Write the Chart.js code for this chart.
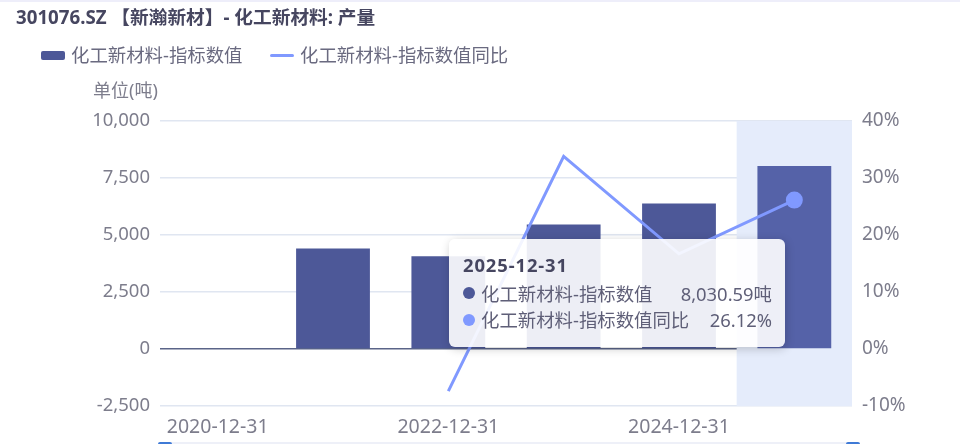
<!DOCTYPE html>
<html>
<head>
<meta charset="utf-8">
<script src="https://cdn.jsdelivr.net/npm/chart.js@4"></script>
<style>
  html, body { margin: 0; padding: 0; background: #fff; }
  body { width: 960px; height: 444px; position: relative; overflow: hidden; font-family: "Noto Sans", "Noto Sans CJK SC", sans-serif; }
  .abs { position: absolute; white-space: nowrap; }
  #topline { left: 0; top: 0; width: 960px; height: 2px; background: #eeeefa; }
  #title { left: 16px; top: 6px; font-size: 18.7px; line-height: 22px; font-weight: 700; color: #464660; }
  .legend { top: 43px; font-size: 18.4px; line-height: 24px; color: #6a6a80; }
  .swatch { position: absolute; top: 51px; width: 24px; border-radius: 2px; }
  #unit { left: 93px; top: 79px; font-size: 18px; line-height: 22px; color: #7d7d8c; }
  #wrap { left: 0; top: 0; width: 960px; height: 444px; }
  #tip { left: 449px; top: 239px; width: 336px; height: 108px; box-sizing: border-box; background: rgba(255,255,255,.9); border-radius: 6px; box-shadow: 1px 2px 10px rgba(0,0,0,.2); color: #5f5f78; font-size: 18.4px; }
  #tip .t { position: absolute; left: 14px; top: 14px; font-size: 18.4px; letter-spacing: 0.9px; line-height: 24px; font-weight: 700; color: #464660; }
  #tip .n { position: absolute; left: 32px; line-height: 24px; }
  #tip .v { position: absolute; right: 13px; line-height: 24px; }
  #tip .d { position: absolute; left: 14px; width: 12px; height: 12px; border-radius: 50%; }
  #track { left: 160px; top: 442px; width: 692px; height: 2px; background: #eef0f8; }
  .handle { position: absolute; top: 442px; width: 14px; height: 2px; background: #3f7ad6; border-radius: 2px 2px 0 0; }
</style>
</head>
<body>
<div class="abs" id="wrap"><canvas id="c" width="960" height="444"></canvas></div>
<div class="abs" id="topline"></div>
<div class="abs" id="title"></div>
<div class="swatch" style="left:41px;height:9px;background:#4d5898"></div>
<div class="abs legend" id="leg1" style="left:71px"></div>
<div class="swatch" style="left:270px;height:3px;top:54px;background:#8099ff"></div>
<div class="abs legend" id="leg2" style="left:300px"></div>
<div class="abs" id="unit"></div>
<div class="abs" id="tip"></div>
<div class="abs" id="track"></div>
<div class="handle" style="left:158px"></div>
<div class="handle" style="left:846px"></div>
<script>
const titleText = '301076.SZ 【新瀚新材】- 化工新材料: 产量';
const unitText = '单位(吨)';
const categories = ['2020-12-31', '2021-12-31', '2022-12-31', '2023-12-31', '2024-12-31', '2025-12-31'];
const barName = '化工新材料-指标数值';
const lineName = '化工新材料-指标数值同比';
const barValues = [null, 4408, 4070, 5460, 6380, 8030.59];
const lineValues = [null, null, -7.4, 33.8, 16.7, 26.12];
const activeIndex = 5;

document.getElementById('title').textContent = titleText;
document.getElementById('unit').textContent = unitText;
document.getElementById('leg1').textContent = barName;
document.getElementById('leg2').textContent = lineName;

// highlighted column behind the active category
const bandPlugin = {
  id: 'band',
  beforeDatasetsDraw(chart) {
    const { ctx, chartArea, scales } = chart;
    const w = chartArea.width / categories.length;
    const cx = scales.x.getPixelForValue(activeIndex);
    ctx.save();
    ctx.fillStyle = '#e5ecfb';
    ctx.fillRect(cx - w / 2, chartArea.top, w, chartArea.height);
    ctx.restore();
  }
};

function fitWidth(w) {
  return (scale) => { scale.width = w; };
}

const fontFamily = '"Noto Sans", "Noto Sans CJK SC", sans-serif';

const chart = new Chart(document.getElementById('c').getContext('2d'), {
  type: 'bar',
  data: {
    labels: categories,
    datasets: [
      {
        type: 'line',
        label: lineName,
        data: lineValues,
        yAxisID: 'y2',
        order: 0,
        borderColor: '#8099ff',
        backgroundColor: '#8099ff',
        borderWidth: 3,
        tension: 0,
        pointRadius: lineValues.map((v, i) => (i === activeIndex ? 7 : 0)),
        pointHoverRadius: 7
      },
      {
        label: barName,
        data: barValues,
        yAxisID: 'y',
        order: 1,
        backgroundColor: categories.map((c, i) => (i === activeIndex ? '#5562a8' : '#4d5898')),
        barPercentage: 0.64,
        categoryPercentage: 1
      }
    ]
  },
  options: {
    responsive: false,
    animation: false,
    events: [],
    layout: { padding: { top: 121, bottom: 0, left: 0, right: 0 } },
    plugins: { legend: { display: false }, title: { display: false }, tooltip: { enabled: false } },
    scales: {
      x: {
        grid: { display: false },
        border: { display: false },
        afterFit(scale) { scale.height = 38; },
        ticks: {
          autoSkip: false,
          maxRotation: 0,
          padding: 2,
          color: '#7d7d8c',
          font: { family: fontFamily, size: 19.5 },
          callback(value, i) { return i % 2 === 0 ? categories[i] : ''; }
        }
      },
      y: {
        position: 'left',
        min: -2500,
        max: 10000,
        afterFit: fitWidth(160),
        grid: {
          drawTicks: false,
          lineWidth: 1.5,
          color: (c) => (c.tick.value === 0 ? '#5a6488' : '#e0e6f1')
        },
        border: { display: false },
        ticks: {
          stepSize: 2500,
          padding: 10,
          color: '#7d7d8c',
          font: { family: fontFamily, size: 18.5 },
          callback: (v) => v.toLocaleString('en-US')
        }
      },
      y2: {
        position: 'right',
        min: -10,
        max: 40,
        afterFit: fitWidth(108),
        grid: { display: false, drawOnChartArea: false, drawTicks: false },
        border: { display: false },
        ticks: {
          stepSize: 10,
          padding: 10,
          color: '#7d7d8c',
          font: { family: fontFamily, size: 19 },
          callback: (v) => v + '%'
        }
      }
    }
  },
  plugins: [bandPlugin]
});

// tooltip content is read from the same arrays
const barText = barValues[activeIndex].toLocaleString('en-US', { minimumFractionDigits: 2 }) + '吨';
const lineText = lineValues[activeIndex].toFixed(2) + '%';
document.getElementById('tip').innerHTML =
  '<div class="t">' + categories[activeIndex] + '</div>' +
  '<div class="d" style="top:48px;background:#4d5898"></div>' +
  '<div class="n" style="top:43px">' + barName + '</div>' +
  '<div class="v" style="top:43px">' + barText + '</div>' +
  '<div class="d" style="top:75px;background:#8099ff"></div>' +
  '<div class="n" style="top:69px">' + lineName + '</div>' +
  '<div class="v" style="top:69px">' + lineText + '</div>';
</script>
</body>
</html>
